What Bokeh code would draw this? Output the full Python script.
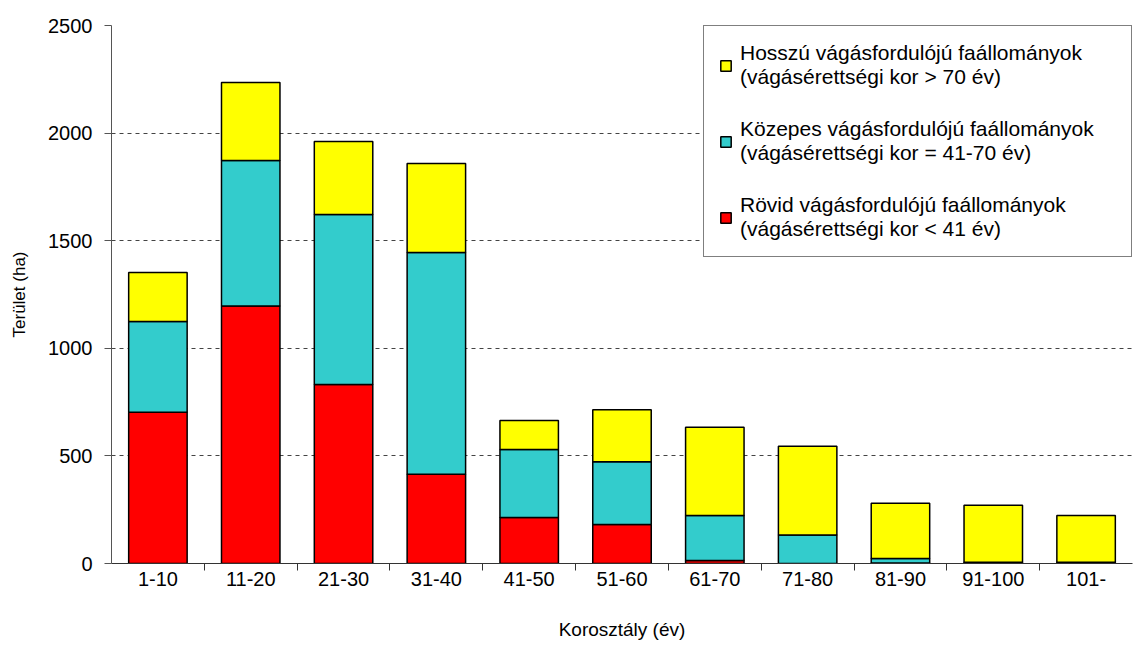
from bokeh.plotting import figure
from bokeh.models import Range1d, FixedTicker, Legend, LegendItem, ColumnDataSource
from bokeh.embed import file_html
from bokeh.resources import INLINE

categories = ["1-10", "11-20", "21-30", "31-40", "41-50", "51-60",
              "61-70", "71-80", "81-90", "91-100", "101-"]
rovid = [703, 1196, 832, 415, 214, 181, 14, 0, 2, 2, 2]
kozepes = [421, 677, 790, 1030, 316, 292, 209, 133, 21, 4, 4]
hosszu = [228, 362, 339, 414, 135, 241, 410, 412, 257, 265, 217]
y_ticks = [0, 500, 1000, 1500, 2000, 2500]

labels = {
    "hosszu": "Hosszú vágásfordulójú faállományok\n(vágásérettségi kor > 70 év)",
    "kozepes": "Közepes vágásfordulójú faállományok\n(vágásérettségi kor = 41-70 év)",
    "rovid": "Rövid vágásfordulójú faállományok\n(vágásérettségi kor < 41 év)",
}

FONT = "Liberation Sans"
n = len(categories)
xpos = [i + 0.5 for i in range(n)]
src = ColumnDataSource(dict(x=xpos, rovid=rovid, kozepes=kozepes, hosszu=hosszu))

p = figure(width=1134, height=643, x_range=Range1d(0, n), y_range=Range1d(0, 2500),
           output_backend="svg", toolbar_location=None,
           min_border_left=111, min_border_top=25, min_border_right=2, min_border_bottom=80)
p.outline_line_color = None
p.background_fill_color = "white"

rs = p.vbar_stack(["rovid", "kozepes", "hosszu"], x="x", width=0.63, source=src,
                  color=["#FF0000", "#33CCCC", "#FFFF00"],
                  line_color="black", line_width=1.5)

# axes
p.xaxis.ticker = FixedTicker(ticks=xpos, minor_ticks=list(range(1, n)))
p.xaxis.major_label_overrides = {x: c for x, c in zip(xpos, categories)}
p.xaxis.major_tick_line_color = None
p.xaxis.minor_tick_out = 7
p.xaxis.minor_tick_in = 0
p.xaxis.minor_tick_line_color = "#333333"
p.xaxis.axis_line_color = "#333333"
p.xaxis.axis_label = "Korosztály (év)"

p.yaxis.ticker = FixedTicker(ticks=y_ticks)
p.yaxis.major_tick_out = 7
p.yaxis.major_tick_in = 0
p.yaxis.minor_tick_line_color = None
p.yaxis.axis_line_color = "#555555"
p.yaxis.major_tick_line_color = "#555555"
p.yaxis.axis_label = "Terület (ha)"

for ax in (p.xaxis[0], p.yaxis[0]):
    ax.major_label_text_font = FONT
    ax.major_label_text_font_size = "20px"
    ax.major_label_text_color = "black"
    ax.axis_label_text_font = FONT
    ax.axis_label_text_font_style = "normal"
    ax.axis_label_text_color = "black"
p.xaxis.axis_label_text_font_size = "19px"
p.yaxis.axis_label_text_font_size = "17px"
p.xaxis.major_label_standoff = 1
p.xaxis.axis_label_standoff = 30
p.yaxis.major_label_standoff = 12
p.yaxis.axis_label_standoff = 16

p.xgrid.grid_line_color = None
p.ygrid.ticker = FixedTicker(ticks=y_ticks[1:])
p.ygrid.grid_line_color = "#444444"
p.ygrid.grid_line_dash = "4 4"
p.ygrid.grid_line_width = 1

legend = Legend(items=[
    LegendItem(label=labels["hosszu"], renderers=[rs[2]]),
    LegendItem(label=labels["kozepes"], renderers=[rs[1]]),
    LegendItem(label=labels["rovid"], renderers=[rs[0]]),
], location="top_right")
legend.border_line_color = "black"
legend.border_line_width = 1
legend.background_fill_alpha = 1
legend.label_text_font = FONT
legend.label_text_font_size = "21px"
legend.label_text_color = "black"
legend.label_text_line_height = 1.45
legend.glyph_width = 13
legend.glyph_height = 13
legend.label_standoff = 8
legend.label_width = 376
legend.padding = 15
legend.spacing = 28
legend.margin = 0
p.add_layout(legend)

open("out.html", "w").write(file_html(p, INLINE))
